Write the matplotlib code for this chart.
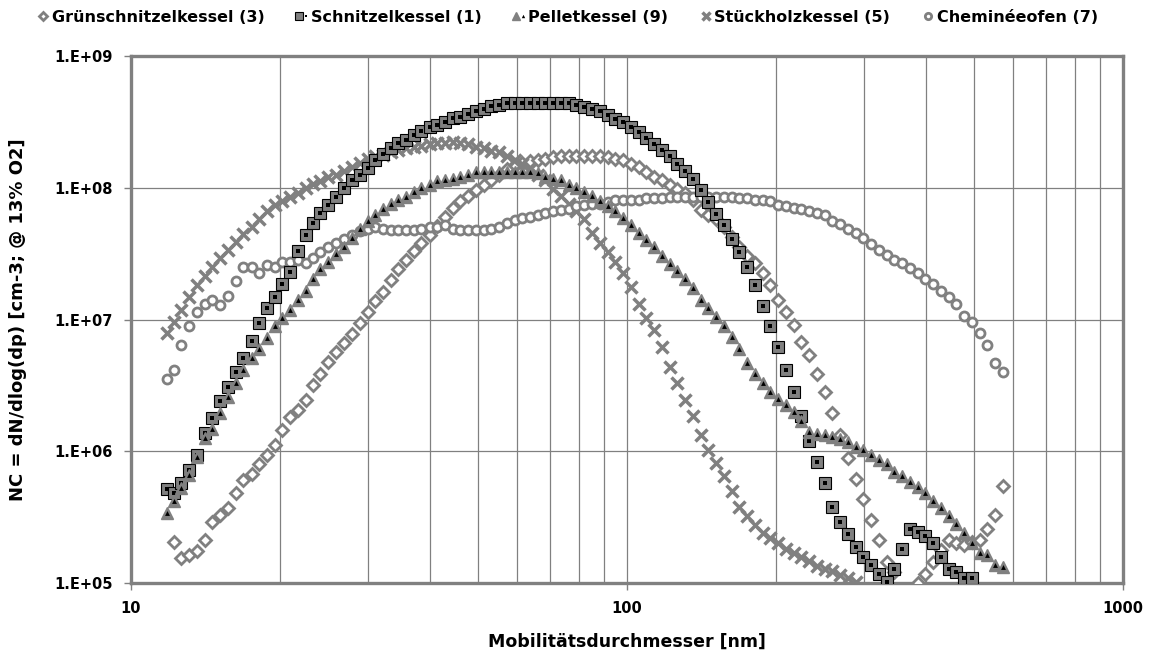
import numpy as np
import matplotlib
matplotlib.use("Agg")
import matplotlib.pyplot as plt
from matplotlib.legend_handler import HandlerTuple
from matplotlib.ticker import FixedLocator, NullFormatter

# SMPS channel midpoints (nm)
dp = [11.8, 12.2, 12.6, 13.1, 13.6, 14.1, 14.6, 15.1, 15.7, 16.3,
      16.8, 17.5, 18.1, 18.8, 19.5, 20.2, 20.9, 21.7, 22.5, 23.3,
      24.1, 25.0, 25.9, 26.9, 27.9, 28.9, 30.0, 31.1, 32.2, 33.4,
      34.6, 35.9, 37.2, 38.5, 40.0, 41.4, 42.9, 44.5, 46.1, 47.8,
      49.6, 51.4, 53.3, 55.2, 57.3, 59.4, 61.5, 63.8, 66.1, 68.5,
      71.0, 73.7, 76.4, 79.1, 82.0, 85.1, 88.2, 91.4, 94.7, 98.2,
      101.8, 105.5, 109.4, 113.4, 117.6, 121.9, 126.3, 131.0, 135.8, 140.7,
      145.9, 151.2, 156.8, 162.5, 168.5, 174.7, 181.1, 187.7, 194.6, 201.7,
      209.1, 216.7, 224.7, 232.9, 241.4, 250.3, 259.5, 269.0, 278.8, 289.0,
      299.6, 310.6, 322.0, 333.8, 346.0, 358.7, 371.8, 385.4, 399.5, 414.2,
      429.4, 445.1, 461.4, 478.3, 495.8, 514.0, 532.8, 552.3, 572.5]

# dN/dlog(dp), given as exponent (log10)
gruen_exp = [None, 5.31, 5.19, 5.21, 5.24, 5.33, 5.46, 5.52, 5.57, 5.68,
             5.78, 5.83, 5.90, 5.97, 6.05, 6.16, 6.26, 6.31, 6.39, 6.50,
             6.59, 6.68, 6.75, 6.82, 6.89, 6.97, 7.06, 7.14, 7.21, 7.30,
             7.38, 7.45, 7.52, 7.58, 7.64, 7.71, 7.78, 7.85, 7.90, 7.94,
             7.98, 8.02, 8.06, 8.10, 8.14, 8.17, 8.19, 8.20, 8.21, 8.22,
             8.23, 8.24, 8.24, 8.24, 8.24, 8.24, 8.24, 8.235, 8.22, 8.21,
             8.18, 8.155, 8.12, 8.08, 8.06, 8.02, 7.99, 7.96, 7.91, 7.83,
             7.79, 7.76, 7.70, 7.63, 7.55, 7.48, 7.43, 7.35, 7.26, 7.15,
             7.06, 6.96, 6.83, 6.73, 6.59, 6.45, 6.29, 6.12, 5.95, 5.79,
             5.64, 5.48, 5.33, 5.16, 5.08, None, None, 5.00, 5.07, 5.16,
             5.25, 5.33, 5.30, 5.29, 5.31, 5.33, 5.41, 5.52, 5.74]

schnitzel_exp = [5.71, 5.68, 5.76, 5.86, 5.97, 6.14, 6.25, 6.38, 6.49, 6.60,
                 6.71, 6.84, 6.97, 7.09, 7.17, 7.27, 7.36, 7.52, 7.64, 7.73,
                 7.81, 7.87, 7.93, 8.00, 8.06, 8.10, 8.15, 8.21, 8.26, 8.30,
                 8.34, 8.36, 8.40, 8.43, 8.46, 8.48, 8.50, 8.53, 8.54, 8.56,
                 8.58, 8.60, 8.62, 8.63, 8.64, 8.645, 8.645, 8.645, 8.645, 8.645,
                 8.645, 8.64, 8.64, 8.63, 8.61, 8.60, 8.58, 8.55, 8.52, 8.50,
                 8.46, 8.42, 8.38, 8.33, 8.29, 8.24, 8.18, 8.13, 8.07, 7.98,
                 7.89, 7.80, 7.72, 7.61, 7.51, 7.40, 7.26, 7.10, 6.95, 6.79,
                 6.62, 6.45, 6.27, 6.08, 5.92, 5.76, 5.58, 5.46, 5.37, 5.27,
                 5.20, 5.14, 5.07, 5.01, 5.11, 5.26, 5.41, 5.39, 5.36, 5.30,
                 5.20, 5.11, 5.08, 5.04, 5.04]

pellet_exp = [5.53, 5.62, 5.72, 5.82, 5.96, 6.10, 6.17, 6.29, 6.41, 6.52,
              6.62, 6.71, 6.78, 6.86, 6.95, 7.01, 7.07, 7.15, 7.22, 7.31,
              7.38, 7.44, 7.50, 7.55, 7.62, 7.69, 7.75, 7.79, 7.84, 7.88,
              7.91, 7.93, 7.97, 8.00, 8.02, 8.05, 8.06, 8.07, 8.08, 8.10,
              8.12, 8.12, 8.12, 8.12, 8.12, 8.12, 8.12, 8.12, 8.11, 8.08,
              8.07, 8.06, 8.02, 8.00, 7.97, 7.94, 7.90, 7.86, 7.82, 7.77,
              7.72, 7.66, 7.60, 7.55, 7.48, 7.42, 7.37, 7.31, 7.24, 7.15,
              7.09, 7.02, 6.95, 6.87, 6.78, 6.67, 6.59, 6.52, 6.45, 6.40,
              6.35, 6.30, 6.23, 6.15, 6.13, 6.12, 6.11, 6.09, 6.07, 6.03,
              6.01, 5.97, 5.93, 5.90, 5.84, 5.81, 5.77, 5.73, 5.68, 5.62,
              5.57, 5.51, 5.45, 5.38, 5.30, 5.23, 5.21, 5.14, 5.12]

stueckholz_exp = [6.90, 6.98, 7.07, 7.17, 7.26, 7.33, 7.40, 7.47, 7.53, 7.59,
                  7.65, 7.70, 7.76, 7.82, 7.87, 7.90, 7.93, 7.96, 8.00, 8.03,
                  8.05, 8.08, 8.10, 8.13, 8.16, 8.19, 8.22, 8.24, 8.25, 8.27,
                  8.29, 8.30, 8.31, 8.32, 8.33, 8.34, 8.34, 8.35, 8.34, 8.33,
                  8.31, 8.30, 8.28, 8.27, 8.24, 8.21, 8.18, 8.14, 8.10, 8.06,
                  7.99, 7.94, 7.88, 7.82, 7.76, 7.66, 7.58, 7.51, 7.44, 7.35,
                  7.25, 7.12, 7.01, 6.92, 6.79, 6.64, 6.52, 6.39, 6.27, 6.12,
                  6.01, 5.91, 5.81, 5.70, 5.58, 5.51, 5.44, 5.38, 5.34, 5.30,
                  5.26, 5.23, 5.20, 5.17, 5.13, 5.11, 5.09, 5.06, 5.04, 5.01]

cheminee_exp = [6.55, 6.62, 6.81, 6.95, 7.06, 7.12, 7.15, 7.11, 7.18, 7.29,
                7.40, 7.40, 7.35, 7.41, 7.40, 7.44, 7.44, 7.45, 7.43, 7.47,
                7.51, 7.55, 7.58, 7.61, 7.64, 7.67, 7.69, 7.70, 7.69, 7.68,
                7.68, 7.68, 7.68, 7.69, 7.70, 7.70, 7.72, 7.69, 7.68, 7.68,
                7.68, 7.68, 7.69, 7.70, 7.73, 7.755, 7.77, 7.78, 7.79, 7.81,
                7.82, 7.83, 7.84, 7.86, 7.87, 7.88, 7.88, 7.89, 7.91, 7.91,
                7.91, 7.91, 7.92, 7.92, 7.925, 7.93, 7.93, 7.93, 7.93, 7.93,
                7.93, 7.93, 7.93, 7.93, 7.92, 7.92, 7.91, 7.91, 7.90, 7.87,
                7.86, 7.85, 7.84, 7.82, 7.81, 7.79, 7.75, 7.725, 7.685, 7.655,
                7.62, 7.575, 7.53, 7.49, 7.45, 7.43, 7.39, 7.35, 7.31, 7.27,
                7.22, 7.17, 7.12, 7.03, 6.98, 6.90, 6.81, 6.67, 6.60]

labels = ["Grünschnitzelkessel (3)", "Schnitzelkessel (1)", "Pelletkessel (9)",
          "Stückholzkessel (5)", "Cheminéeofen (7)"]
y_ticks = [1e5, 1e6, 1e7, 1e8, 1e9]
y_ticklabels = ["1.E+05", "1.E+06", "1.E+07", "1.E+08", "1.E+09"]
x_ticks = [10, 100, 1000]
x_ticklabels = ["10", "100", "1000"]

GRAY = "#808080"


def series(exps):
    x = np.array(dp[:len(exps)])
    e = np.array([np.nan if v is None else v for v in exps], dtype=float)
    return x, 10.0 ** e


plt.rcParams['font.family'] = ['DejaVu Sans']
plt.rcParams['font.weight'] = 'bold'

fig = plt.figure(figsize=(11.57, 6.59), dpi=100)
ax = fig.add_axes([0.1132, 0.1153, 0.8574, 0.7997])

x, y = series(gruen_exp)
h_gr, = ax.plot(x, y, 'D', ms=6.5, mfc='white', mec=GRAY, mew=2, zorder=3)

x, y = series(schnitzel_exp)
h_s1, = ax.plot(x, y, 's', ms=8, mfc=GRAY, mec='black', mew=0.8, zorder=4)
h_s2, = ax.plot(x, y, 's', ms=2.5, mfc='black', mec='black', mew=0, zorder=4)

x, y = series(pellet_exp)
h_p1, = ax.plot(x, y, '^', ms=9, mfc=GRAY, mec=GRAY, mew=1, zorder=5)
h_p2, = ax.plot(x, y, '^', ms=3.5, mfc='black', mec='black', mew=0, zorder=5)

x, y = series(stueckholz_exp)
h_st, = ax.plot(x, y, 'x', ms=9, mec=GRAY, mew=2.5, zorder=3)

x, y = series(cheminee_exp)
h_ch, = ax.plot(x, y, 'o', ms=6.5, mfc='white', mec=GRAY, mew=2, zorder=3)

ax.set_xscale('log')
ax.set_yscale('log')
ax.set_xlim(10, 1000)
ax.set_ylim(1e5, 1e9)

ax.xaxis.set_major_locator(FixedLocator(x_ticks))
ax.set_xticklabels(x_ticklabels)
ax.xaxis.set_minor_locator(FixedLocator([20, 30, 40, 50, 60, 70, 80, 90,
                                         200, 300, 400, 500, 600, 700, 800, 900]))
ax.xaxis.set_minor_formatter(NullFormatter())
ax.yaxis.set_major_locator(FixedLocator(y_ticks))
ax.set_yticklabels(y_ticklabels)
ax.yaxis.set_minor_locator(FixedLocator([]))

ax.grid(True, which='major', color=GRAY, lw=0.9)
ax.grid(True, which='minor', axis='x', color=GRAY, lw=0.9)
ax.set_axisbelow(True)
for s in ax.spines.values():
    s.set_color(GRAY)
    s.set_linewidth(2.4)
ax.tick_params(which='major', length=5, width=1, color=GRAY, labelsize=10.5, pad=8)
ax.tick_params(which='minor', length=0)

ax.set_xlabel("Mobilitätsdurchmesser [nm]", fontsize=12.5, fontweight='bold', labelpad=12)
ax.set_ylabel("NC = dN/dlog(dp) [cm-3; @ 13% O2]", fontsize=13, fontweight='bold', labelpad=20)

handles = [h_gr, (h_s1, h_s2), (h_p1, h_p2), h_st, h_ch]
fig.legend(handles, labels, loc='center', bbox_to_anchor=(0.49, 0.974), ncol=5,
           frameon=False, handletextpad=0.1, columnspacing=1.9, handlelength=0.9,
           markerscale=0.7, prop={'weight': 'bold', 'size': 11.5},
           handler_map={tuple: HandlerTuple(ndivide=None, pad=0)})

fig.savefig("out.png", dpi=100)
